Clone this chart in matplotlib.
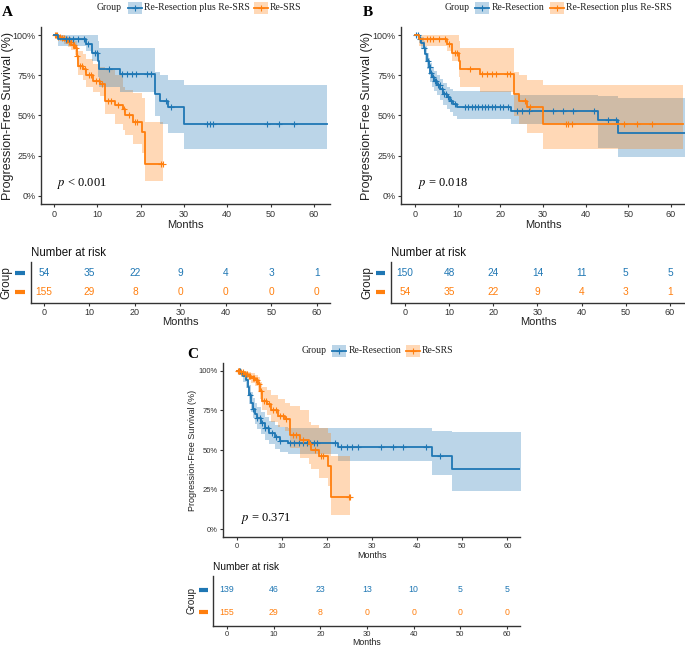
import numpy as np
import matplotlib
matplotlib.use("Agg")
import matplotlib.pyplot as plt
from matplotlib.lines import Line2D
from matplotlib.patches import Rectangle
import matplotlib.transforms as mtransforms

plt.rcParams['font.family'] = ['Liberation Sans', 'DejaVu Sans']
plt.rcParams['mathtext.fontset'] = 'stix'

# ---------------- data ----------------
# Re-Resection plus Re-SRS (n=54)
rrs_t = [0, 1.0, 7.5, 8.7, 10.2, 10.5, 15.2, 23.2, 24.4, 26.3, 30.0]
rrs_s = [1.0, 0.973, 0.943, 0.89, 0.84, 0.788, 0.757, 0.634, 0.593, 0.551, 0.445]
rrs_lo = [1.0, 0.93, 0.90, 0.84, 0.74, 0.675, 0.644, 0.50, 0.45, 0.39, 0.29]
rrs_hi = [1.0, 1.0, 1.0, 1.0, 0.96, 0.92, 0.92, 0.77, 0.75, 0.72, 0.69]
rrs_end = 62.9
rrs_cens = [2.7, 3.4, 4.3, 5.5, 7.0, 7.9, 9.4, 9.9, 12.8, 15.6, 16.8, 18.0, 19.0,
            21.5, 22.3, 25.8, 27.0, 35.3, 35.9, 36.7, 49.1, 52.0, 55.5]

# Re-SRS (n=155)
srs_t = [0, 0.8, 1.6, 2.4, 3.2, 4.0, 4.8, 5.2, 5.6, 6.8, 7.5, 9.1, 10.6, 11.8,
         14.1, 16.0, 16.4, 18.3, 20.2, 21.0]
srs_s = [1.0, 0.99, 0.98, 0.97, 0.955, 0.94, 0.92, 0.87, 0.81, 0.79, 0.75, 0.716,
         0.696, 0.593, 0.565, 0.54, 0.50, 0.46, 0.40, 0.20]
srs_lo = [1.0, 0.975, 0.96, 0.945, 0.925, 0.905, 0.875, 0.82, 0.75, 0.72, 0.68,
          0.645, 0.62, 0.51, 0.45, 0.41, 0.377, 0.325, 0.27, 0.09]
srs_hi = [1.0, 1.0, 1.0, 0.995, 0.985, 0.975, 0.96, 0.93, 0.90, 0.88, 0.85, 0.82,
          0.80, 0.78, 0.75, 0.675, 0.66, 0.64, 0.61, 0.46]
srs_end = 25.2
srs_cens = [0.2, 0.4, 0.6, 1.0, 1.3, 1.9, 2.2, 2.7, 3.0, 3.5, 3.9, 4.3, 4.6, 5.0,
            5.4, 6.0, 6.5, 7.2, 8.0, 8.6, 9.6, 10.3, 11.0, 12.5, 13.2, 14.8, 16.2,
            17.4, 18.7, 19.2, 24.8, 25.1]

# Re-Resection, panel B (n=150)
rr150_t = [0, 1.0, 1.5, 2.0, 2.4, 2.8, 3.2, 3.6, 4.0, 4.5, 5.1, 5.9, 6.6, 7.4,
           8.2, 9.0, 9.8, 22.6, 43.0, 47.5]
rr150_s = [1.0, 0.975, 0.95, 0.92, 0.88, 0.84, 0.80, 0.765, 0.74, 0.715, 0.69,
           0.665, 0.635, 0.613, 0.593, 0.572, 0.555, 0.531, 0.47, 0.392]
rr150_lo = [1.0, 0.95, 0.915, 0.88, 0.835, 0.79, 0.75, 0.71, 0.68, 0.65, 0.625,
            0.595, 0.565, 0.54, 0.52, 0.50, 0.48, 0.449, 0.295, 0.243]
rr150_hi = [1.0, 1.0, 0.99, 0.965, 0.93, 0.89, 0.855, 0.825, 0.80, 0.775, 0.75,
            0.725, 0.70, 0.68, 0.665, 0.655, 0.65, 0.625, 0.62, 0.61]
rr150_end = 64.0
rr150_cens = [0.3, 0.6, 1.2, 2.2, 3.0, 3.4, 3.8, 4.2, 4.7, 5.0, 5.4, 5.8, 6.3,
              6.9, 7.2, 7.7, 8.5, 9.3, 11.7, 12.5, 13.3, 14.1, 14.8, 15.6, 16.4,
              17.2, 18.0, 18.8, 19.9, 20.7, 21.9, 23.8, 25.0, 26.6, 32.4, 34.6,
              37.0, 42.0, 45.3, 47.2]

# Re-Resection, panel C (n=139)
rr139_t = [0, 1.0, 1.5, 2.0, 2.4, 2.8, 3.1, 3.5, 4.0, 4.6, 5.3, 6.2, 7.2, 8.4,
           9.5, 11.3, 22.5, 43.2, 47.7]
rr139_s = [1.0, 0.985, 0.97, 0.94, 0.90, 0.85, 0.80, 0.76, 0.73, 0.70, 0.67,
           0.64, 0.61, 0.58, 0.56, 0.543, 0.518, 0.46, 0.382]
rr139_lo = [1.0, 0.96, 0.93, 0.89, 0.85, 0.79, 0.74, 0.70, 0.665, 0.63, 0.60,
            0.565, 0.535, 0.505, 0.49, 0.474, 0.43, 0.34, 0.241]
rr139_hi = [1.0, 1.0, 1.0, 0.99, 0.95, 0.91, 0.865, 0.83, 0.80, 0.77, 0.74,
            0.71, 0.685, 0.66, 0.645, 0.64, 0.64, 0.62, 0.612]
rr139_end = 64.0
rr139_cens = [0.4, 0.7, 3.0, 3.7, 4.6, 5.2, 5.7, 6.3, 7.0, 7.8, 8.7, 9.6, 11.8,
              12.7, 13.7, 14.6, 15.5, 16.3, 17.2, 17.9, 21.8, 23.1, 24.4, 25.5,
              26.8, 31.9, 34.6, 36.8, 42.0, 45.1]

risk_times = [0, 10, 20, 30, 40, 50, 60]
risk_A_rrs = [54, 35, 22, 9, 4, 3, 1]
risk_A_srs = [155, 29, 8, 0, 0, 0, 0]
risk_B_rr = [150, 48, 24, 14, 11, 5, 5]
risk_B_rrs = [54, 35, 22, 9, 4, 3, 1]
risk_C_rr = [139, 46, 23, 13, 10, 5, 5]
risk_C_srs = [155, 29, 8, 0, 0, 0, 0]

y_ticks = [0, 0.25, 0.5, 0.75, 1.0]
y_ticklabels = ['0%', '25%', '50%', '75%', '100%']
x_ticks = [0, 10, 20, 30, 40, 50, 60]

BLUE = '#1f77b4'
ORANGE = '#ff7f0e'
DARK = '#333333'

W, H = 685, 646
fig = plt.figure(figsize=(W / 100, H / 100), dpi=100)


def pax(l, t, r, b):
    return fig.add_axes([l / W, 1 - b / H, (r - l) / W, (b - t) / H])


def km(ax, t, s, lo, hi, end, cens, color):
    tt = np.append(t, end)
    ss = np.append(s, s[-1])
    ll = np.append(lo, lo[-1])
    hh = np.append(hi, hi[-1])
    ax.fill_between(tt, ll, hh, step='post', color=color, alpha=0.3, lw=0)
    ax.step(tt, ss, where='post', color=color, lw=1.3)
    t_arr = np.asarray(t)
    idx = np.searchsorted(t_arr, cens, side='right') - 1
    ax.plot(cens, np.asarray(s)[idx], '+', color=color, ms=4.5, mew=0.8,
            linestyle='none')


def style_plot(ax, xlim, tick_fs, ylab_fs, xlab_fs, ylab_x):
    ax.set_xlim(*xlim)
    ax.set_ylim(-0.05, 1.05)
    ax.set_yticks(y_ticks)
    ax.set_yticklabels(y_ticklabels)
    ax.set_xticks(x_ticks)
    for sp in ['top', 'right']:
        ax.spines[sp].set_visible(False)
    for sp in ['left', 'bottom']:
        ax.spines[sp].set_color(DARK)
        ax.spines[sp].set_linewidth(1.0)
    ax.tick_params(length=2.5, width=0.8, color=DARK, labelcolor=DARK,
                   labelsize=tick_fs, pad=1.5)
    ax.set_xlabel('Months', fontsize=xlab_fs, labelpad=1, color='#222222')
    ax.set_ylabel('Progression-Free Survival (%)', fontsize=ylab_fs,
                  color='#222222')
    ax.yaxis.set_label_coords(ylab_x, 0.5)


def style_table(ax, xlim, top_vals, bot_vals, num_fs, tick_fs, title_fs,
                xlab_fs, group_px, group_fs, dash_px, width_px):
    ax.set_xlim(*xlim)
    ax.set_ylim(-0.6, 1.6)
    ax.set_xticks(x_ticks)
    ax.set_yticks([])
    for sp in ['top', 'right']:
        ax.spines[sp].set_visible(False)
    for sp in ['left', 'bottom']:
        ax.spines[sp].set_color(DARK)
        ax.spines[sp].set_linewidth(1.0)
    ax.tick_params(axis='x', length=2.5, width=0.8, color=DARK, labelcolor=DARK,
                   labelsize=tick_fs, pad=1.0)
    for x, v in zip(risk_times, top_vals):
        ax.text(x, 1, str(v), color=BLUE, ha='center', va='center',
                fontsize=num_fs)
    for x, v in zip(risk_times, bot_vals):
        ax.text(x, 0, str(v), color=ORANGE, ha='center', va='center',
                fontsize=num_fs)
    ax.set_title('Number at risk', loc='left', fontsize=title_fs, pad=4,
                 color='#111111')
    ax.set_xlabel('Months', fontsize=xlab_fs, labelpad=0, color='#222222')
    trans = mtransforms.blended_transform_factory(ax.transAxes, ax.transData)
    x0 = dash_px[0] / width_px
    x1 = dash_px[1] / width_px
    ax.plot([x0, x1], [1, 1], color=BLUE, lw=3, transform=trans,
            clip_on=False, solid_capstyle='butt')
    ax.plot([x0, x1], [0, 0], color=ORANGE, lw=3, transform=trans,
            clip_on=False, solid_capstyle='butt')
    ax.text(group_px / width_px, 0.5, 'Group', rotation=90, ha='center',
            va='center', transform=trans, fontsize=group_fs,
            color='#222222')


def legend(y, group_x, items, fs=7.0):
    yf = 1 - y / H
    fig.text(group_x / W, yf, 'Group', family='Liberation Serif', fontsize=fs,
             va='center', ha='left', color='#222222')
    for kx, lx, color, label in items:
        fig.add_artist(Rectangle((kx / W, 1 - (y + 6) / H), 14 / W, 12 / H,
                                 transform=fig.transFigure, facecolor=color,
                                 alpha=0.3, lw=0))
        fig.add_artist(Line2D([kx / W, (kx + 14) / W], [yf, yf], color=color,
                              lw=1.3, transform=fig.transFigure))
        fig.add_artist(Line2D([(kx + 7) / W], [yf], color=color, marker='+',
                              ms=4.5, mew=0.8, transform=fig.transFigure))
        fig.text(lx / W, yf, label, family='Liberation Serif', fontsize=fs,
                 va='center', ha='left', color='#222222')


# ---------------- Panel A ----------------
axA = pax(41, 27, 330, 204)
km(axA, srs_t, srs_s, srs_lo, srs_hi, srs_end, srs_cens, ORANGE)
km(axA, rrs_t, rrs_s, rrs_lo, rrs_hi, rrs_end, rrs_cens, BLUE)
style_plot(axA, (-3.0, 63.7), 6.5, 9, 8, -0.095)
axA.text(0.8, 0.08, r'$p$ < 0.001', family='Liberation Serif', fontsize=9,
         va='center', ha='left')

tA = pax(31, 262, 330, 303)
style_table(tA, (-2.86, 62.9), risk_A_rrs, risk_A_srs, 7.3, 6.5, 8.3, 8,
            -25, 8.5, (-16, -6), 299)

legend(8, 97, [(128, 144, BLUE, 'Re-Resection plus Re-SRS'),
               (254, 270, ORANGE, 'Re-SRS')])
fig.text(2 / W, 1 - 12 / H, 'A', family='Liberation Serif', weight='bold',
         fontsize=11, va='center', ha='left')

# ---------------- Panel B ----------------
axB = pax(401, 27, 685, 204)
km(axB, rr150_t, rr150_s, rr150_lo, rr150_hi, rr150_end, rr150_cens, BLUE)
km(axB, rrs_t, rrs_s, rrs_lo, rrs_hi, rrs_end, rrs_cens, ORANGE)
style_plot(axB, (-3.3, 63.3), 6.5, 9, 8, -0.099)
axB.text(0.8, 0.08, r'$p$ = 0.018', family='Liberation Serif', fontsize=9,
         va='center', ha='left')

tB = pax(391, 262, 685, 303)
style_table(tB, (-3.17, 63.4), risk_B_rr, risk_B_rrs, 7.3, 6.5, 8.3, 8,
            -24, 8.5, (-15, -6), 294)

legend(8, 445, [(475, 492, BLUE, 'Re-Resection'),
                (550, 566, ORANGE, 'Re-Resection plus Re-SRS')])
fig.text(363 / W, 1 - 12 / H, 'B', family='Liberation Serif', weight='bold',
         fontsize=11, va='center', ha='left')

# ---------------- Panel C ----------------
axC = pax(223, 363, 520, 537)
km(axC, rr139_t, rr139_s, rr139_lo, rr139_hi, rr139_end, rr139_cens, BLUE)
km(axC, srs_t, srs_s, srs_lo, srs_hi, srs_end, srs_cens, ORANGE)
style_plot(axC, (-3.04, 62.8), 5.5, 6.5, 6.5, -0.0875)
axC.text(1.0, 0.07, r'$p$ = 0.371', family='Liberation Serif', fontsize=9,
         va='center', ha='left')

tC = pax(213, 576, 520, 626)
style_table(tC, (-3.0, 62.8), risk_C_rr, risk_C_srs, 6.3, 5.5, 7.3, 6.3,
            -21, 7, (-14, -5), 307)

legend(351, 302, [(332, 349, BLUE, 'Re-Resection'),
                  (406, 422, ORANGE, 'Re-SRS')])
fig.text(187 / W, 1 - 355 / H, 'C', family='Liberation Serif', weight='bold',
         fontsize=11, va='center', ha='left')

fig.savefig('out.png', dpi=100)
